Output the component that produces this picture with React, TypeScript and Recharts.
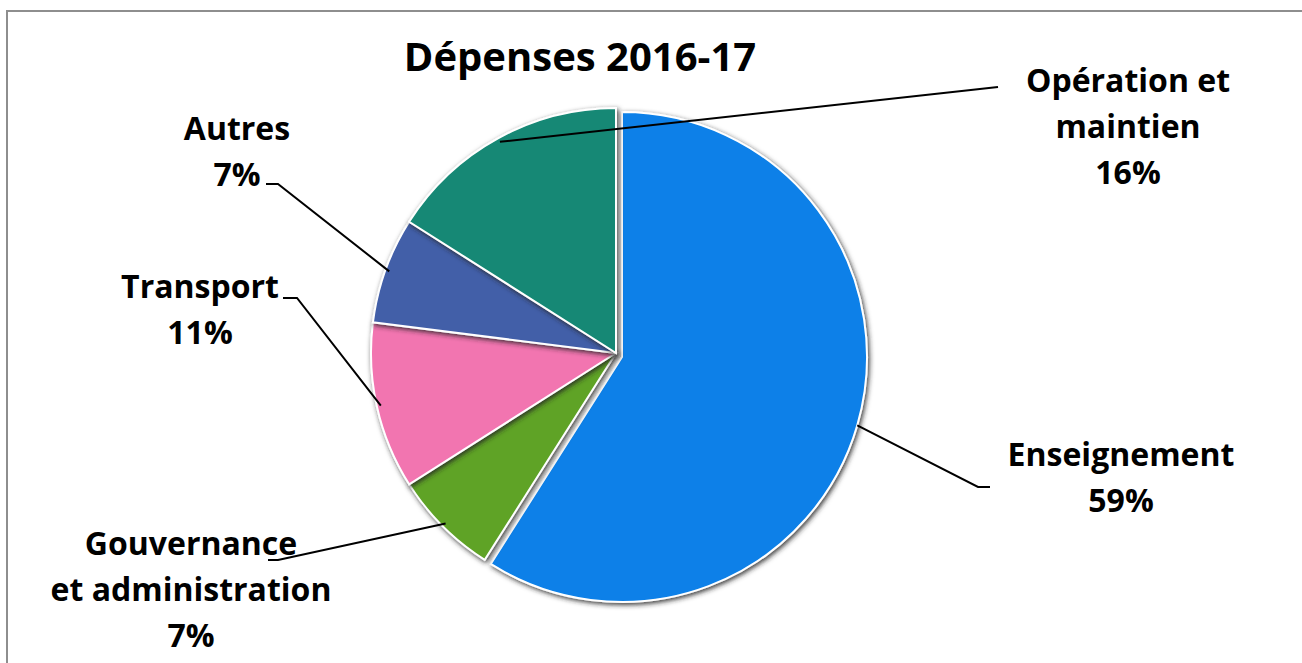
import React from 'react';
import { PieChart, Pie, Cell } from 'recharts';

const categories = ['Enseignement', 'Gouvernance et administration', 'Transport', 'Autres', 'Opération et maintien'];
const values = [59, 7, 11, 7, 16];
const labelLines = [['Enseignement'], ['Gouvernance', 'et administration'], ['Transport'], ['Autres'], ['Opération et', 'maintien']];
const title = 'Dépenses 2016-17';

const colors = ['#0A80E8', '#5EA327', '#F274B0', '#425EA8', '#148874'];

// label layout: text centre x, first baseline y, leader elbow and end
const labelLayout = [
  { tx: 1121, ty: 466, elbow: [978, 487], end: [990, 487] },
  { tx: 191, ty: 555, elbow: [278, 560], end: [268, 560] },
  { tx: 200, ty: 298, elbow: [297, 298], end: [283, 298] },
  { tx: 237, ty: 140, elbow: [278, 184], end: [266, 184] },
  { tx: 1128, ty: 92, elbow: [998, 87], end: [998, 87] },
];

const data = categories.map((c, i) => ({ name: c, value: values[i] }));

const FONT = '"Open Sans", sans-serif';
const RAD = Math.PI / 180;

function makeLabel(show: (i: number) => boolean, inset: number) {
  return (props: any) => {
    const { cx, cy, midAngle, outerRadius, index, value } = props;
    if (!show(index)) return null;
    const lay = labelLayout[index];
    const r = outerRadius - inset;
    const sx = cx + Math.cos(-midAngle * RAD) * r;
    const sy = cy + Math.sin(-midAngle * RAD) * r;
    const lines = [...labelLines[index], `${value}%`];
    return (
      <g key={`lbl-${index}`}>
        <polyline
          points={`${sx},${sy} ${lay.elbow[0]},${lay.elbow[1]} ${lay.end[0]},${lay.end[1]}`}
          fill="none"
          stroke="#000"
          strokeWidth={2}
        />
        {lines.map((t, k) => (
          <text
            key={k}
            x={lay.tx}
            y={lay.ty + k * 46}
            textAnchor="middle"
            fontFamily={FONT}
            fontWeight={700}
            fontSize={32}
            fill="#000"
          >
            {t}
          </text>
        ))}
      </g>
    );
  };
}

export default function App() {
  return (
    <div style={{ position: 'absolute', left: 0, top: 0, width: 1302, height: 663, overflow: 'hidden', background: '#fff' }}>
      <svg width={0} height={0} style={{ position: 'absolute' }}>
        <defs>
          <filter id="sliceShadow" x="-20%" y="-20%" width="140%" height="140%">
            <feDropShadow dx={1.5} dy={2} stdDeviation={2.5} floodColor="#222" floodOpacity={0.9} />
          </filter>
        </defs>
      </svg>
      <div
        style={{
          position: 'absolute',
          left: 6,
          top: 10,
          width: 1400,
          height: 800,
          border: '2px solid #8e8e8e',
          boxSizing: 'border-box',
        }}
      />
      <div
        style={{
          position: 'absolute',
          left: 280,
          width: 600,
          top: 30,
          textAlign: 'center',
          fontFamily: FONT,
          fontWeight: 700,
          fontSize: 40,
          lineHeight: '52px',
          color: '#000',
        }}
      >
        {title}
      </div>
      <div style={{ position: 'absolute', left: 0, top: 0 }}>
        <PieChart width={1302} height={663} margin={{ top: 0, right: 0, bottom: 0, left: 0 }}>
          <Pie
            data={data}
            dataKey="value"
            nameKey="name"
            cx={622}
            cy={357}
            outerRadius={245}
            startAngle={90}
            endAngle={-270}
            isAnimationActive={false}
            label={makeLabel((i) => i === 0, 0)}
            labelLine={false}
          >
            {data.map((d, i) => (
              <Cell
                key={d.name}
                fill={i === 0 ? colors[i] : 'transparent'}
                stroke={i === 0 ? '#fff' : 'none'}
                strokeWidth={2}
                filter={i === 0 ? 'url(#sliceShadow)' : undefined}
              />
            ))}
          </Pie>
          <Pie
            data={data}
            dataKey="value"
            nameKey="name"
            cx={616}
            cy={353}
            outerRadius={245}
            startAngle={90}
            endAngle={-270}
            isAnimationActive={false}
            label={makeLabel((i) => i !== 0, 4)}
            labelLine={false}
          >
            {data.map((d, i) => (
              <Cell
                key={d.name}
                fill={i === 0 ? 'transparent' : colors[i]}
                stroke={i === 0 ? 'none' : '#fff'}
                strokeWidth={2}
                filter={i === 0 ? undefined : 'url(#sliceShadow)'}
              />
            ))}
          </Pie>
        </PieChart>
      </div>
    </div>
  );
}
